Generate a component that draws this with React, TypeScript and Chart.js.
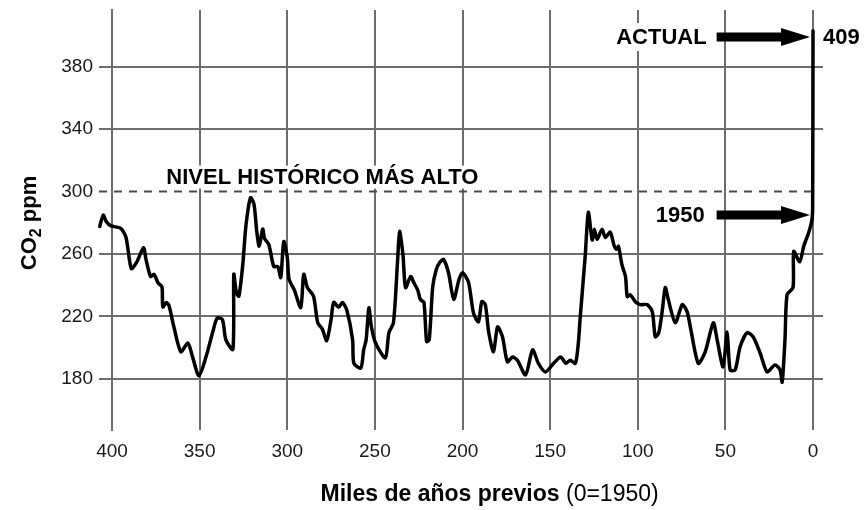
import React, { useEffect, useRef } from "react";
import { Chart, registerables } from "chart.js";

Chart.register(...registerables);

const FONT = "'Liberation Sans', Arial, Helvetica, sans-serif";

// thousands of years before present (0 = 1950)
const kyrBP: number[] = [
  407, 405, 403.4, 400.6, 395, 392, 389, 386, 382, 380.6, 378, 376, 373.8, 371.5, 371, 369, 367.5, 364.7,
  360.7, 356.7, 354, 350.4, 346.4, 342.5, 340, 337, 335, 331, 330.5, 329, 327.6, 325.4, 323.6, 321, 319,
  317.4, 316, 314, 313, 310.5, 307.7, 305.4, 303.7, 302, 300, 299, 296, 292.3, 290.6, 288.5, 285, 282.6,
  280, 277.5, 275, 273.5, 270.6, 268.5, 266, 262.7, 262, 258, 256.4, 255, 253.4, 252, 249.6, 244, 242,
  239.4, 237, 235.9, 234, 232.5, 229.6, 227.8, 225.6, 224, 222, 220.5, 219, 217, 215, 213, 210.8, 208,
  205, 202, 200, 196.6, 193.7, 190.9, 189, 187, 185, 182.3, 180, 177.2, 174.4, 171.5, 168.7, 164, 160,
  156.7, 152.7, 148, 144, 141, 138.5, 135.6, 133.9, 132.8, 130, 128.2, 126, 124.8, 123.2, 120.4, 118.5,
  115.7, 113.4, 112, 111, 109, 107, 106, 104.3, 101.4, 98.6, 94.6, 91.7, 90, 88, 86, 84.3, 82.6, 78.6,
  74.6, 71.8, 70, 65.5, 61.5, 56.9, 54.7, 51.3, 49, 47.3, 44.4, 41.6, 37.6, 34.2, 30.2, 26.2, 21.7, 18.8,
  17.6, 16, 14.8, 11.4, 11, 7.6, 5.3, 2.4, 0.6, 0.2, 0,
];

// CO2 concentration, ppm
const co2ppm: number[] = [
  277.7, 285, 281, 278, 276.5, 270.6, 250.7, 254.6, 264, 256.5, 245.6, 247, 241.7, 239, 226, 229, 227, 213.4,
  197.4, 203, 194, 182, 194, 210, 219, 218, 205, 199, 247, 235, 233, 253, 278, 296, 292,
  274.5, 265, 276, 270, 266, 252, 252, 245, 268, 258, 244, 237, 225.7, 247, 238.5, 233, 216,
  212, 204.5, 218, 229, 226, 229, 224, 205, 190, 187, 198.6, 205, 225.6, 213.4, 203, 193.5, 209.6,
  216, 256.5, 274.5, 259.7, 238.5, 245.6, 241.7, 237, 230.8, 229, 204, 205, 239, 250, 254.6, 256.5, 248,
  231, 243.7, 248, 242, 222, 216.6, 229.5, 227.6, 209.6, 197.4, 213.4, 207, 191, 194, 192, 182.6, 198.6,
  190, 184.5, 190, 194, 190, 192, 190, 203, 220, 258.5, 286.7, 269, 275.8, 269.4, 275.8, 270.6,
  274, 265, 263, 265, 253, 245.6, 232.7, 234, 229.5, 227.6, 227.6, 223, 207, 209.6, 224, 238.5, 231, 216,
  227.6, 223, 213.4, 190, 197.4, 216, 205, 187.7, 210, 185.8, 185.8, 200.6, 209.6, 207, 196.7, 184.5, 189, 185.8,
  178, 205, 234, 238.5, 261.7, 255, 265, 274, 282, 290, 403,
];

const xTickValues: number[] = [400, 350, 300, 250, 200, 150, 100, 50, 0];
const yTickValues: number[] = [180, 220, 260, 300, 340, 380];

const historicHigh = 300;
const historicLabel = "NIVEL HISTÓRICO MÁS ALTO";
const actualText = "ACTUAL";
const actualValueText = "409";
const actualArrowLevel = 399;
const text1950 = "1950";
const level1950 = 285;
const yTitleMain = "CO";
const yTitleSub = "2";
const yTitleRest = " ppm";
const xTitleBold = "Miles de años previos";
const xTitleRegular = " (0=1950)";

const GRID = "#6d6d6d";

function drawArrow(ctx: CanvasRenderingContext2D, x1: number, x2: number, y: number) {
  const headLen = 29;
  const shaftH = 4.5;
  const headH = 9;
  ctx.fillStyle = "#000";
  ctx.fillRect(x1, y - shaftH, x2 - headLen - x1 + 1, shaftH * 2);
  ctx.beginPath();
  ctx.moveTo(x2 - headLen, y - headH);
  ctx.lineTo(x2, y);
  ctx.lineTo(x2 - headLen, y + headH);
  ctx.closePath();
  ctx.fill();
}

const annotationPlugin = {
  id: "co2Annotations",
  beforeDatasetsDraw(chart: any) {
    const { ctx, chartArea, scales } = chart;
    const xs = scales.x;
    const ys = scales.y;
    ctx.save();
    // historic label with white background
    ctx.font = `bold 22px ${FONT}`;
    ctx.textBaseline = "middle";
    ctx.textAlign = "left";
    const lx = xs.getPixelForValue(369);
    const ly = ys.getPixelForValue(historicHigh) - 15;
    const w = ctx.measureText(historicLabel).width;
    ctx.fillStyle = "#fff";
    ctx.fillRect(lx - 4, ly - 11, w + 8, 23);
    ctx.fillStyle = "#000";
    ctx.fillText(historicLabel, lx, ly + 1);

    // dashed historic line
    const dy = ys.getPixelForValue(historicHigh);
    ctx.strokeStyle = "#4a4a4a";
    ctx.lineWidth = 2;
    ctx.setLineDash([8, 7]);
    ctx.beginPath();
    ctx.moveTo(chartArea.left - 13, dy);
    ctx.lineTo(xs.getPixelForValue(0) + 2, dy);
    ctx.stroke();
    ctx.setLineDash([]);

    // ACTUAL label with white background
    const tail = xs.getPixelForValue(55);
    const ay = ys.getPixelForValue(actualArrowLevel);
    ctx.font = `bold 22px ${FONT}`;
    ctx.textAlign = "right";
    const aw = ctx.measureText(actualText).width;
    ctx.fillStyle = "#fff";
    ctx.fillRect(tail - 10 - aw - 3, ay - 14, aw + 6, 28);
    ctx.fillStyle = "#000";
    ctx.fillText(actualText, tail - 10, ay + 1);

    ctx.restore();
  },
  afterDatasetsDraw(chart: any) {
    const { ctx, scales } = chart;
    const xs = scales.x;
    const ys = scales.y;
    ctx.save();
    const tail = xs.getPixelForValue(55);
    const tip = xs.getPixelForValue(0) - 3;
    const ay = ys.getPixelForValue(actualArrowLevel);
    drawArrow(ctx, tail, tip, ay);
    const by = ys.getPixelForValue(level1950);
    drawArrow(ctx, tail, tip, by);

    ctx.font = `bold 22px ${FONT}`;
    ctx.textBaseline = "middle";
    ctx.fillStyle = "#000";
    ctx.textAlign = "left";
    ctx.fillText(actualValueText, xs.getPixelForValue(0) + 10, ay + 1);
    ctx.textAlign = "right";
    ctx.fillText(text1950, tail - 12, by + 1);

    // y axis title
    ctx.save();
    ctx.translate(28, 223);
    ctx.rotate(-Math.PI / 2);
    ctx.font = `bold 22px ${FONT}`;
    const w1 = ctx.measureText(yTitleMain).width;
    const w3 = ctx.measureText(yTitleRest).width;
    ctx.font = `bold 16px ${FONT}`;
    const w2 = ctx.measureText(yTitleSub).width;
    const x0 = -(w1 + w2 + w3) / 2;
    ctx.textAlign = "left";
    ctx.textBaseline = "alphabetic";
    ctx.font = `bold 22px ${FONT}`;
    ctx.fillText(yTitleMain, x0, 8);
    ctx.font = `bold 16px ${FONT}`;
    ctx.fillText(yTitleSub, x0 + w1, 13);
    ctx.font = `bold 22px ${FONT}`;
    ctx.fillText(yTitleRest, x0 + w1 + w2, 8);
    ctx.restore();

    // x axis title
    ctx.textAlign = "left";
    ctx.textBaseline = "middle";
    ctx.font = `bold 23px ${FONT}`;
    const bw = ctx.measureText(xTitleBold).width;
    const startX = xs.getPixelForValue(281);
    ctx.fillText(xTitleBold, startX, 495);
    ctx.font = `23px ${FONT}`;
    ctx.fillText(xTitleRegular, startX + bw, 495);
    ctx.restore();
  },
};

export default function App() {
  const canvasRef = useRef<HTMLCanvasElement | null>(null);

  useEffect(() => {
    if (!canvasRef.current) return;
    const chart = new Chart(canvasRef.current, {
      type: "line",
      data: {
        datasets: [
          {
            data: kyrBP.map((k, i) => ({ x: k, y: co2ppm[i] })),
            borderColor: "#000",
            borderWidth: 3.5,
            pointRadius: 0,
            tension: 0.25,
            borderJoinStyle: "round",
            borderCapStyle: "round",
            fill: false,
            clip: false,
          } as any,
        ],
      },
      options: {
        animation: false,
        responsive: false,
        maintainAspectRatio: false,
        layout: { padding: { left: 0, top: 10, right: 41, bottom: 0 } },
        plugins: { legend: { display: false }, tooltip: { enabled: false } },
        scales: {
          x: {
            type: "linear",
            reverse: true,
            min: -5.7,
            max: 400,
            afterBuildTicks: (scale: any) => {
              scale.ticks = xTickValues.map((v) => ({ value: v }));
            },
            afterFit: (scale: any) => {
              scale.height = 80;
              scale.paddingLeft = 0;
              scale.paddingRight = 0;
            },
            grid: { color: GRID, lineWidth: 2, drawTicks: false },
            border: { display: false },
            ticks: {
              autoSkip: false,
              maxRotation: 0,
              padding: 10,
              color: "#1a1a1a",
              font: { family: FONT, size: 19 },
              callback: (v: any) => String(v),
            },
          },
          y: {
            type: "linear",
            min: 147.3,
            max: 416.3,
            afterBuildTicks: (scale: any) => {
              scale.ticks = yTickValues.map((v) => ({ value: v }));
            },
            afterFit: (scale: any) => {
              scale.width = 112;
              scale.paddingTop = 0;
              scale.paddingBottom = 0;
            },
            grid: {
              color: (c: any) => (c.tick && c.tick.value === historicHigh ? "rgba(0,0,0,0)" : GRID),
              tickColor: (c: any) => (c.tick && c.tick.value === historicHigh ? "rgba(0,0,0,0)" : GRID),
              lineWidth: 2,
              tickLength: 13,
            },
            border: { display: true, color: GRID, width: 2 },
            ticks: {
              padding: 6,
              color: "#1a1a1a",
              font: { family: FONT, size: 19 },
              callback: (v: any) => String(v),
            },
          },
        },
      },
      plugins: [annotationPlugin],
    } as any);
    return () => chart.destroy();
  }, []);

  return (
    <div style={{ position: "fixed", left: 0, top: 0, width: 864, height: 510, background: "#fff" }}>
      <canvas ref={canvasRef} width={864} height={510} style={{ display: "block" }} />
    </div>
  );
}
